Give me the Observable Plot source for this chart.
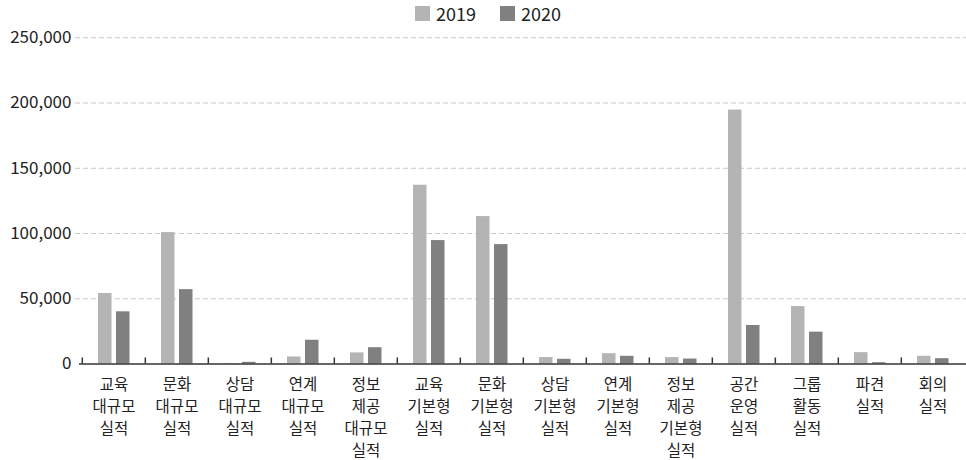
<!DOCTYPE html>
<html>
<head>
<meta charset="utf-8">
<script src="https://cdn.jsdelivr.net/npm/d3@7"></script>
<script src="https://cdn.jsdelivr.net/npm/@observablehq/plot@0.6"></script>
<style>
  body { margin: 0; background: #fff; font-family: "Noto Sans CJK KR", "Noto Sans", sans-serif; position: relative; }
  #legend { position: absolute; top: 0; left: 0; width: 966px; height: 26px; display: flex; justify-content: center; align-items: center; gap: 24px; padding-left: 10px; box-sizing: border-box; font-size: 18px; color: #222; z-index: 1; }
  #legend span.item { display: flex; align-items: center; gap: 6px; }
  #legend span.sw { width: 15px; height: 15px; display: inline-block; }
  svg { display: block; }
</style>
</head>
<body>
<div id="legend"></div>
<div id="chart"></div>
<script>
const categories = [
  "교육 대규모 실적", "문화 대규모 실적", "상담 대규모 실적", "연계 대규모 실적",
  "정보 제공 대규모 실적", "교육 기본형 실적", "문화 기본형 실적", "상담 기본형 실적",
  "연계 기본형 실적", "정보 제공 기본형 실적", "공간 운영 실적", "그룹 활동 실적",
  "파견 실적", "회의 실적"
];
const series = ["2019", "2020"];
const values2019 = [54000, 100700, 300, 5400, 8500, 137000, 113000, 4900, 7900, 4900, 194600, 44000, 8700, 5900];
const values2020 = [40000, 57000, 1300, 18200, 12500, 94600, 91500, 3600, 5900, 3800, 29500, 24400, 1000, 4100];
const yTicks = [0, 50000, 100000, 150000, 200000, 250000];
const colors = {"2019": "#b4b4b4", "2020": "#808080"};

const d2019 = categories.map((c, i) => ({category: c, value: values2019[i]}));
const d2020 = categories.map((c, i) => ({category: c, value: values2020[i]}));

const legend = document.getElementById("legend");
series.forEach(s => {
  const it = document.createElement("span");
  it.className = "item";
  it.innerHTML = `<span class="sw" style="background:${colors[s]}"></span><span>${s}</span>`;
  legend.appendChild(it);
});

const W = 966, H = 460;
const mL = 79, mR = 0, mT = 37.3, mB = 96.5;
const bw = (W - mL - mR) / categories.length;
const tickLen = 6 / ((H - mB - mT) / 250000);

const chart = Plot.plot({
  width: W,
  height: H,
  marginLeft: mL,
  marginRight: mR,
  marginTop: mT,
  marginBottom: mB,
  style: {fontFamily: "'Noto Sans CJK KR', 'Noto Sans', sans-serif", background: "#fff", color: "#222"},
  x: {type: "band", domain: categories, padding: 0, axis: null},
  y: {domain: [0, 250000], axis: null},
  marks: [
    Plot.ruleY(yTicks.filter(d => d > 0), {stroke: "#c8c8c8", strokeDasharray: "5,3", strokeWidth: 1, insetLeft: -4}),
    Plot.axisY({ticks: yTicks, label: null, tickSize: 0, tickPadding: 8, fontSize: 17, tickFormat: d3.format(","), fill: "#222"}),
    Plot.barY(d2019, {x: "category", y: "value", fill: colors["2019"], insetLeft: 16, insetRight: 33.5}),
    Plot.barY(d2020, {x: "category", y: "value", fill: colors["2020"], insetLeft: 34, insetRight: 15.5}),
    Plot.ruleY([0], {stroke: "#333", strokeWidth: 1.5}),
    Plot.ruleX(categories, {x: d => d, dx: -bw / 2, y1: 0, y2: tickLen, stroke: "#333", strokeWidth: 1.5}),
    Plot.text(categories, {
      x: d => d, y: 0, text: d => d.split(" ").join("\n"),
      lineAnchor: "top", dy: 11, fontSize: 15.5, lineHeight: 1.4, fill: "#222",
      letterSpacing: "-1px"
    })
  ]
});
document.getElementById("chart").appendChild(chart);
</script>
</body>
</html>
